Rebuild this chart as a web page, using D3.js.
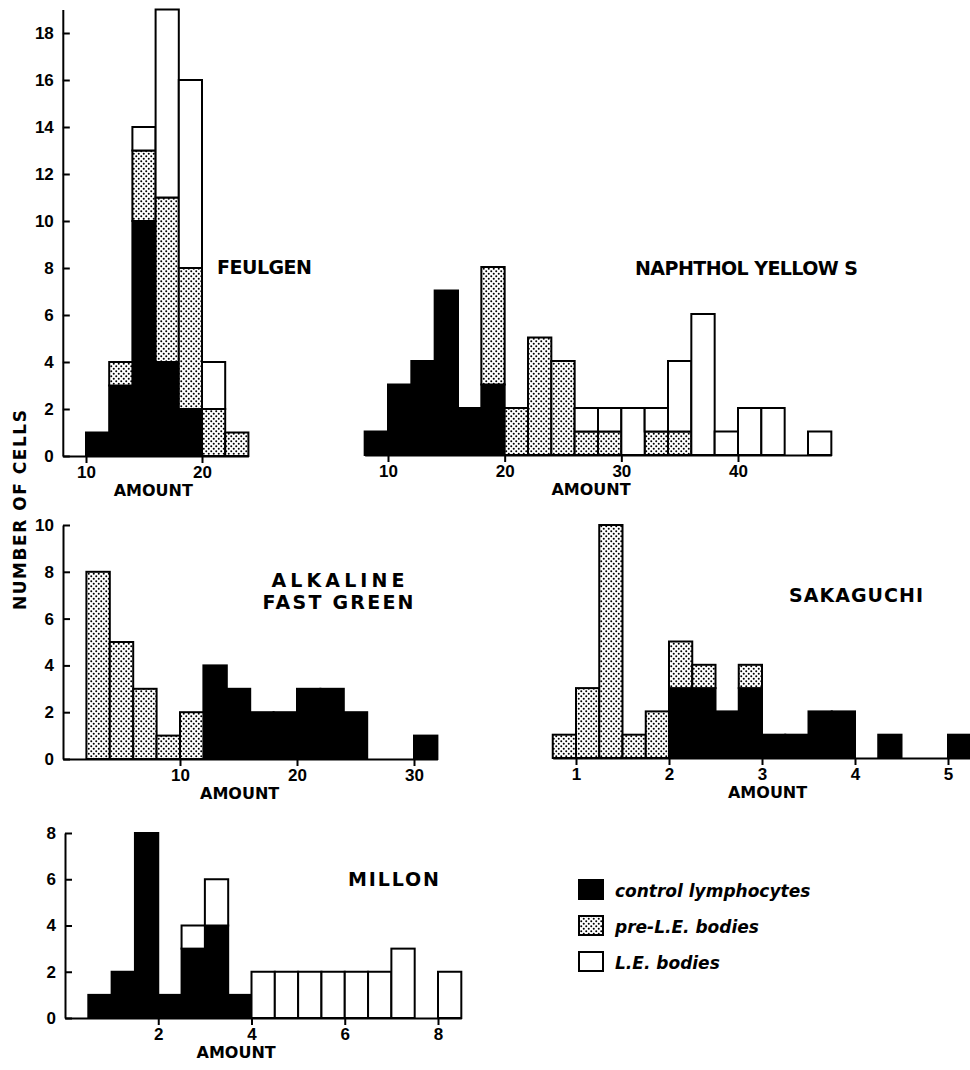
<!DOCTYPE html>
<html>
<head>
<meta charset="utf-8">
<script src="https://cdn.jsdelivr.net/npm/d3@7"></script>
<style>
  body { margin: 0; background: #fff; }
  svg { font-family: "DejaVu Sans", sans-serif; }
  .tick text { font-size: 17px; font-weight: bold; fill: #000; }
  .domain, .tick line { stroke: #000; stroke-width: 2; }
  .title { font-size: 19px; font-weight: bold; }
  .axis-label { font-size: 16px; font-weight: bold; }
  .legend text { font-size: 17px; font-weight: bold; font-style: italic; }
</style>
</head>
<body>
<svg id="chart" width="970" height="1070"></svg>
<script>
// ---- data ----
const feulgenBins    = [10, 12, 14, 16, 18, 20, 22];
const feulgenControl = [1, 3, 10, 4, 2, 0, 0];
const feulgenPre     = [0, 1, 3, 7, 6, 2, 1];
const feulgenLE      = [0, 0, 1, 8, 8, 2, 0];

const naphBins    = [8, 10, 12, 14, 16, 18, 20, 22, 24, 26, 28, 30, 32, 34, 36, 38, 40, 42, 44, 46];
const naphControl = [1, 3, 4, 7, 2, 3, 0, 0, 0, 0, 0, 0, 0, 0, 0, 0, 0, 0, 0, 0];
const naphPre     = [0, 0, 0, 0, 0, 5, 2, 5, 4, 1, 1, 0, 1, 1, 0, 0, 0, 0, 0, 0];
const naphLE      = [0, 0, 0, 0, 0, 0, 0, 0, 0, 1, 1, 2, 1, 3, 6, 1, 2, 2, 0, 1];

const afgBins    = [2, 4, 6, 8, 10, 12, 14, 16, 18, 20, 22, 24, 26, 28, 30];
const afgControl = [0, 0, 0, 0, 0, 4, 3, 2, 2, 3, 3, 2, 0, 0, 1];
const afgPre     = [8, 5, 3, 1, 2, 0, 0, 0, 0, 0, 0, 0, 0, 0, 0];
const afgLE      = [0, 0, 0, 0, 0, 0, 0, 0, 0, 0, 0, 0, 0, 0, 0];

const sakBins    = [0.75, 1, 1.25, 1.5, 1.75, 2, 2.25, 2.5, 2.75, 3, 3.25, 3.5, 3.75, 4, 4.25, 4.5, 4.75, 5];
const sakControl = [0, 0, 0, 0, 0, 3, 3, 2, 3, 1, 1, 2, 2, 0, 1, 0, 0, 1];
const sakPre     = [1, 3, 10, 1, 2, 2, 1, 0, 1, 0, 0, 0, 0, 0, 0, 0, 0, 0];
const sakLE      = [0, 0, 0, 0, 0, 0, 0, 0, 0, 0, 0, 0, 0, 0, 0, 0, 0, 0];

const milBins    = [0.5, 1, 1.5, 2, 2.5, 3, 3.5, 4, 4.5, 5, 5.5, 6, 6.5, 7, 7.5, 8];
const milControl = [1, 2, 8, 1, 3, 4, 1, 0, 0, 0, 0, 0, 0, 0, 0, 0];
const milPre     = [0, 0, 0, 0, 0, 0, 0, 0, 0, 0, 0, 0, 0, 0, 0, 0];
const milLE      = [0, 0, 0, 0, 1, 2, 0, 2, 2, 2, 2, 2, 2, 3, 0, 2];

const feulgenXTicks = [10, 20];
const naphXTicks = [10, 20, 30, 40];
const afgXTicks = [10, 20, 30];
const sakXTicks = [1, 2, 3, 4, 5];
const milXTicks = [2, 4, 6, 8];
const feulgenYTicks = [0, 2, 4, 6, 8, 10, 12, 14, 16, 18];
const afgYTicks = [0, 2, 4, 6, 8, 10];
const milYTicks = [0, 2, 4, 6, 8];

const legendLabels = ["control lymphocytes", "pre-L.E. bodies", "L.E. bodies"];
const keys = ["control", "pre", "le"];

// ---- layout ----
const panels = [
  {bins: feulgenBins, step: 2, control: feulgenControl, pre: feulgenPre, le: feulgenLE,
   xRef: [10, 20], xPx: [86, 202], xExtent: [8, 24], xTicks: feulgenXTicks,
   yDomain: [0, 19], yPx: [456, 9.5], yTicks: feulgenYTicks, amountAt: 15.8,
   title: {x: 217, y: 267, anchor: "start", lines: ["FEULGEN"], len: [95]}},
  {bins: naphBins, step: 2, control: naphControl, pre: naphPre, le: naphLE,
   xRef: [10, 40], xPx: [388, 738], xExtent: [8, 48], xTicks: naphXTicks,
   yDomain: [0, 19], yPx: [455, 8.5], yTicks: null, amountAt: 27.4,
   title: {x: 635, y: 268, anchor: "start", lines: ["NAPHTHOL YELLOW S"], len: [223]}},
  {bins: afgBins, step: 2, control: afgControl, pre: afgPre, le: afgLE,
   xRef: [0, 30], xPx: [63, 414], xExtent: [0, 32], xTicks: afgXTicks,
   yDomain: [0, 10], yPx: [759, 525], yTicks: afgYTicks, amountAt: 15.1,
   title: {x: 338, y: 580, anchor: "middle", lines: ["ALKALINE", "FAST GREEN"], len: [133, 151]}},
  {bins: sakBins, step: 0.25, control: sakControl, pre: sakPre, le: sakLE,
   xRef: [1, 5], xPx: [576, 948], xExtent: [0.75, 5.25], xTicks: sakXTicks,
   yDomain: [0, 10], yPx: [758, 525], yTicks: null, amountAt: 3.06,
   title: {x: 789, y: 595, anchor: "start", lines: ["SAKAGUCHI"], len: [134]}},
  {bins: milBins, step: 0.5, control: milControl, pre: milPre, le: milLE,
   xRef: [0, 8], xPx: [65, 438], xExtent: [0, 8.5], xTicks: milXTicks,
   yDomain: [0, 8], yPx: [1018, 833], yTicks: milYTicks, amountAt: 3.67,
   title: {x: 348, y: 879, anchor: "start", lines: ["MILLON"], len: [91]}}
];

const fills = {control: "#000", pre: "url(#dots)", le: "#fff"};

const svg = d3.select("#chart");

// stipple used for the pre-L.E. bodies
const pat = svg.append("defs").append("pattern")
  .attr("id", "dots")
  .attr("patternUnits", "userSpaceOnUse")
  .attr("width", 5).attr("height", 5);
pat.append("rect").attr("width", 5).attr("height", 5).attr("fill", "#fff");
pat.append("circle").attr("cx", 1.25).attr("cy", 1.25).attr("r", 1).attr("fill", "#000");
pat.append("circle").attr("cx", 3.75).attr("cy", 3.75).attr("r", 1).attr("fill", "#000");

const drawPanel = (p) => {
  const base = d3.scaleLinear().domain(p.xRef).range(p.xPx);
  const x = base.copy().domain(p.xExtent).range(p.xExtent.map(base));
  const y = d3.scaleLinear().domain(p.yDomain).range(p.yPx);
  const g = svg.append("g");

  const rows = p.bins.map((b, i) => ({x0: b, control: p.control[i], pre: p.pre[i], le: p.le[i]}));
  const series = d3.stack().keys(keys)(rows);

  g.append("g")
    .attr("transform", `translate(0,${y(0)})`)
    .call(d3.axisBottom(x).tickValues(p.xTicks).tickFormat(d3.format("d"))
      .tickSizeInner(7).tickSizeOuter(0).tickPadding(3));

  if (p.yTicks) {
    g.append("g")
      .attr("transform", `translate(${x(p.xExtent[0])},0)`)
      .call(d3.axisLeft(y).tickValues(p.yTicks).tickFormat(d3.format("d"))
        .tickSizeInner(-7).tickSizeOuter(0).tickPadding(9));
  }

  series.forEach(s => {
    g.append("g").selectAll("rect")
      .data(s.filter(d => d[1] > d[0]))
      .join("rect")
      .attr("x", d => x(d.data.x0))
      .attr("width", d => x(d.data.x0 + p.step) - x(d.data.x0))
      .attr("y", d => y(d[1]))
      .attr("height", d => y(d[0]) - y(d[1]))
      .attr("fill", fills[s.key])
      .attr("stroke", "#000")
      .attr("stroke-width", 2);
  });

  g.selectAll(".domain").raise();

  g.append("text")
    .attr("class", "axis-label")
    .attr("x", x(p.amountAt))
    .attr("y", y(0) + 34)
    .attr("dy", "0.36em")
    .attr("text-anchor", "middle")
    .text("AMOUNT");

  p.title.lines.forEach((line, i) => {
    g.append("text")
      .attr("class", "title")
      .attr("x", p.title.x)
      .attr("y", p.title.y + i * 22)
      .attr("dy", "0.36em")
      .attr("text-anchor", p.title.anchor)
      .attr("textLength", p.title.len[i])
      .attr("lengthAdjust", "spacing")
      .text(line);
  });
};

panels.forEach(drawPanel);

svg.append("text")
  .attr("class", "axis-label")
  .attr("transform", "translate(20,510) rotate(-90)")
  .attr("dy", "0.36em")
  .attr("text-anchor", "middle")
  .attr("textLength", 200)
  .attr("lengthAdjust", "spacing")
  .style("font-size", "17px")
  .text("NUMBER OF CELLS");

// legend
const legend = svg.append("g").attr("class", "legend");
const legendRow = d3.scaleBand().domain(keys).range([876, 984]);
keys.forEach((k, i) => {
  legend.append("rect")
    .attr("x", 579)
    .attr("y", legendRow(k) + 4)
    .attr("width", 24)
    .attr("height", 19)
    .attr("fill", fills[k])
    .attr("stroke", "#000")
    .attr("stroke-width", 2);
  legend.append("text")
    .attr("x", 615)
    .attr("y", legendRow(k) + 15)
    .attr("dy", "0.36em")
    .text(legendLabels[i]);
});
</script>
</body>
</html>
